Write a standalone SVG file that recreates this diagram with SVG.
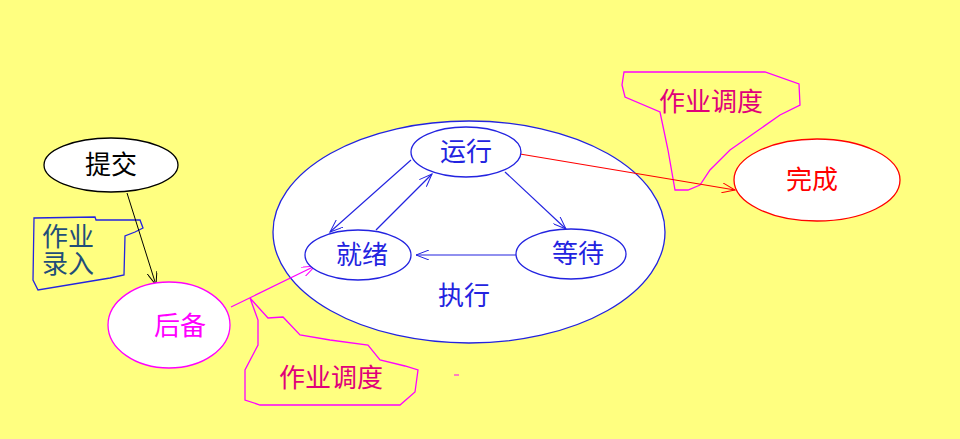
<svg xmlns="http://www.w3.org/2000/svg" width="960" height="439" viewBox="0 0 960 439">
<style>
text{font-family:"Liberation Sans","Noto Sans CJK SC",sans-serif;font-size:26px;text-anchor:middle}
.b{stroke:#2323E0;fill:#fff;stroke-width:1.3}
.bl{stroke:#2323E0;stroke-width:1.2;fill:none}
</style>
<defs>
<marker id="ab" markerWidth="14" markerHeight="10" refX="13" refY="5" orient="auto" markerUnits="userSpaceOnUse"><path d="M0,0L13,5L0,10" fill="none" stroke="#2323E0"/></marker>
<marker id="ak" markerWidth="14" markerHeight="10" refX="13" refY="5" orient="auto" markerUnits="userSpaceOnUse"><path d="M0,0L13,5L0,10" fill="none" stroke="#000"/></marker>
<marker id="am" markerWidth="14" markerHeight="10" refX="13" refY="5" orient="auto" markerUnits="userSpaceOnUse"><path d="M0,0L13,5L0,10" fill="none" stroke="#FF00FF"/></marker>
<marker id="ar" markerWidth="14" markerHeight="10" refX="13" refY="5" orient="auto" markerUnits="userSpaceOnUse"><path d="M0,0L13,5L0,10" fill="none" stroke="#F00"/></marker>
</defs>
<rect width="960" height="439" fill="#FFFF80"/>
<g id="exec"><ellipse cx="469" cy="232" rx="196" ry="111" class="b"/><text x="464" y="305" fill="#2323E0">执行</text></g>
<g id="callout1"><path d="M34,218L95,217L96,220L140,220L143,228L135,232L125,236L124,275L110,278L38,290L33,280Z" fill="#FFFF80" stroke="#2323E0" stroke-width="1.3"/><text x="68" y="246" fill="#1F4E79" font-size="23">作业</text><text x="68" y="273" fill="#1F4E79" font-size="23">录入</text></g>
<g id="callout2"><path d="M250,298L268,318L283,317L300,335L330,340L368,345L380,360L405,366L418,370L415,392L400,405L260,405L245,400L245,370L258,345L258,320Z" fill="#FFFF80" stroke="#FF00FF" stroke-width="1.3"/><text x="331" y="387" fill="#E0007A">作业调度</text></g>
<g id="callout3"><path d="M624,72L765,72L799,84L800,105L780,115L730,150L710,170L700,185L688,190L675,190L668,150L660,112L625,97L622,85Z" fill="#FFFF80" stroke="#FF00FF" stroke-width="1.3"/><text x="711" y="111" fill="#E0007A">作业调度</text></g>
<g id="connectors">
<line x1="127" y1="193" x2="156" y2="285" stroke="#000" marker-end="url(#ak)"/>
<line x1="231" y1="307" x2="315" y2="266" stroke="#FF00FF" stroke-width="1.2" marker-end="url(#am)"/>
<line x1="411" y1="160" x2="330" y2="232" class="bl" marker-end="url(#ab)"/>
<line x1="376" y1="230" x2="432" y2="174" class="bl" marker-end="url(#ab)"/>
<line x1="505" y1="172" x2="566" y2="229" class="bl" marker-end="url(#ab)"/>
<line x1="516" y1="255" x2="416" y2="255" class="bl" marker-end="url(#ab)"/>
<line x1="520" y1="154" x2="735" y2="190" stroke="#F00" stroke-width="1.2" marker-end="url(#ar)"/>
</g>
<g id="submit"><ellipse cx="111" cy="165" rx="67" ry="27" fill="#fff" stroke="#000" stroke-width="1.3"/><text x="111" y="174" fill="#000">提交</text></g>
<g id="backup"><ellipse cx="169" cy="325" rx="61" ry="43" fill="#fff" stroke="#FF00FF" stroke-width="1.3"/><text x="180" y="335" fill="#FF00FF">后备</text></g>
<g id="run"><ellipse cx="466" cy="152" rx="55" ry="25" class="b"/><text x="466" y="161" fill="#2323E0">运行</text></g>
<g id="ready"><ellipse cx="358" cy="255" rx="53" ry="25" class="b"/><text x="362" y="264" fill="#2323E0">就绪</text></g>
<g id="wait"><ellipse cx="571" cy="254" rx="55" ry="25" class="b"/><text x="578" y="263" fill="#2323E0">等待</text></g>
<g id="done"><ellipse cx="817" cy="180" rx="83" ry="41" fill="#fff" stroke="#F00" stroke-width="1.3"/><text x="812" y="189" fill="#F00">完成</text></g>
<line x1="454" y1="375" x2="459" y2="375" stroke="#FF00FF"/>
</svg>
